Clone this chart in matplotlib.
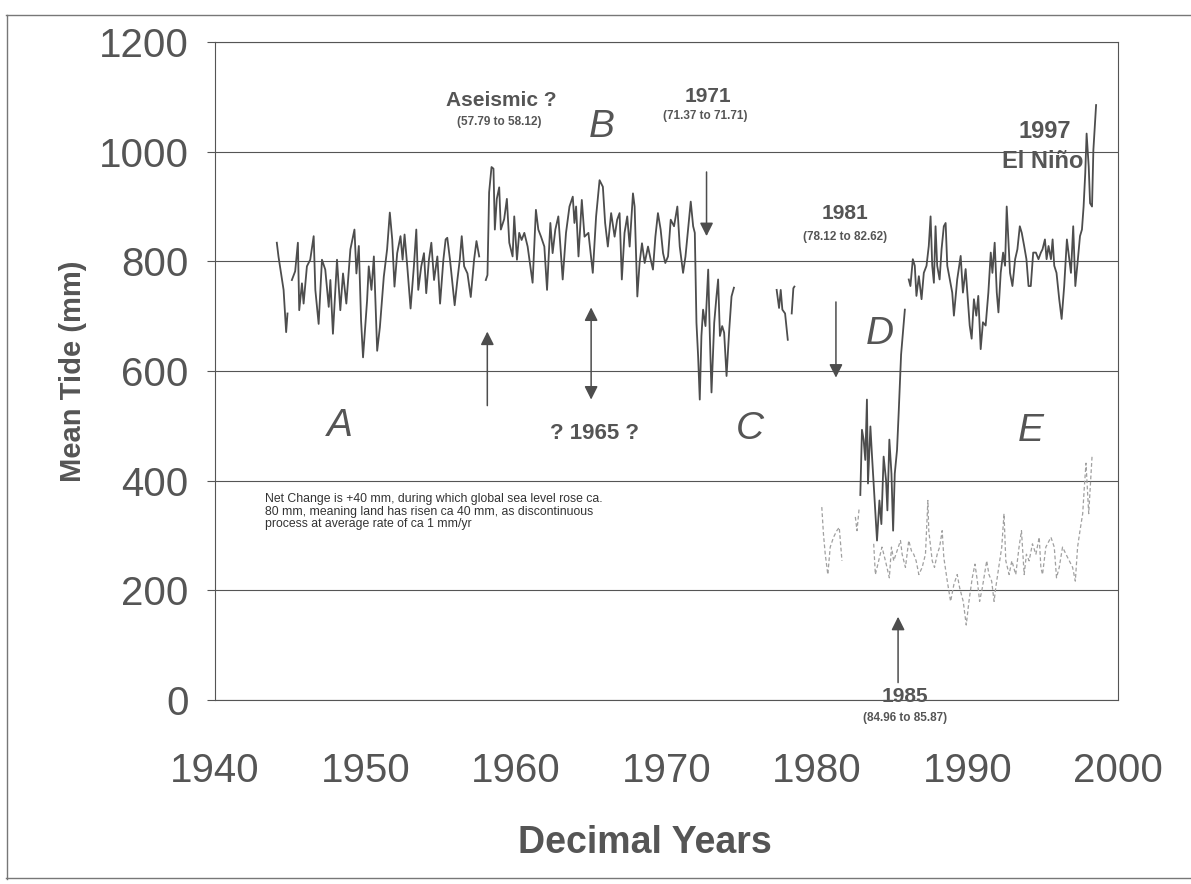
import numpy as np
import matplotlib
matplotlib.use("Agg")
import matplotlib.pyplot as plt
from matplotlib.lines import Line2D

plt.rcParams['font.family'] = ['Liberation Sans', 'DejaVu Sans']

nan = np.nan

# main (dark) tide record, decimal years / mm; nan breaks the line at data gaps
main_years = [
    1944.11, 1944.22, 1944.56, 1944.73, 1944.82, nan,
    1945.11, 1945.33, 1945.51, 1945.60, 1945.78, 1945.89, 1946.11, 1946.33, 1946.56, 1946.67,
    1946.89, 1947.11, 1947.33, 1947.56, 1947.67, 1947.84, 1948.11, 1948.33, 1948.51, 1948.73,
    1949.00, 1949.27, 1949.40, 1949.56, 1949.71, 1949.84, 1950.11, 1950.22, 1950.40, 1950.56,
    1950.78, 1950.96, 1951.22, 1951.44, 1951.62, 1951.78, 1951.93, 1952.11, 1952.33, 1952.47,
    1952.60, 1952.78, 1953.00, 1953.22, 1953.38, 1953.51, 1953.71, 1953.89, 1954.04, 1954.22,
    1954.38, 1954.56, 1954.78, 1954.96, 1955.18, 1955.33, 1955.44, 1955.62, 1955.78, 1955.93,
    1956.11, 1956.27, 1956.40, 1956.56, 1956.78, 1957.00, 1957.22, 1957.38, 1957.56, nan,
    1958.00, 1958.11, 1958.22, 1958.38, 1958.51, 1958.60, 1958.73, 1958.89, 1959.00, 1959.22,
    1959.40, 1959.56, 1959.78, 1959.89, 1960.07, 1960.22, 1960.38, 1960.56, 1960.78, 1961.11,
    1961.33, 1961.49, 1961.67, 1961.89, 1962.07, 1962.29, 1962.44, 1962.62, 1962.82, 1962.96,
    1963.11, 1963.33, 1963.56, 1963.78, 1963.89, 1964.00, 1964.16, 1964.38, 1964.56, 1964.82,
    1965.11, 1965.33, 1965.56, 1965.78, 1965.93, 1966.11, 1966.33, 1966.56, 1966.73, 1966.89,
    1967.04, 1967.22, 1967.40, 1967.56, 1967.78, 1967.89, 1968.07, 1968.22, 1968.38, 1968.56,
    1968.78, 1968.96, 1969.11, 1969.27, 1969.44, 1969.62, 1969.78, 1969.93, 1970.11, 1970.29,
    1970.51, 1970.73, 1970.89, 1971.11, 1971.27, 1971.44, 1971.62, 1971.78, 1971.89, 1972.00,
    1972.11, 1972.22, 1972.33, 1972.44, 1972.60, 1972.78, 1972.89, 1973.00, 1973.18, 1973.33,
    1973.44, 1973.56, 1973.71, 1973.84, 1974.00, 1974.18, 1974.33, 1974.49, nan,
    1977.33, 1977.49, 1977.60, 1977.71, 1977.89, 1978.07, nan, 1978.33, 1978.44, 1978.51, nan,
    1982.89, 1983.00, 1983.11, 1983.22, 1983.33, 1983.40, 1983.56, 1983.67, 1983.84, 1984.00,
    1984.16, 1984.29, 1984.44, 1984.60, 1984.69, 1984.82, 1984.96, 1985.07, 1985.18, 1985.33,
    1985.44, 1985.60, 1985.85, nan,
    1986.11, 1986.22, 1986.38, 1986.51, 1986.62, 1986.78, 1986.96, 1987.11, 1987.29, 1987.44,
    1987.56, 1987.67, 1987.78, 1987.89, 1988.00, 1988.16, 1988.29, 1988.44, 1988.56, 1988.67,
    1988.84, 1989.00, 1989.11, 1989.33, 1989.56, 1989.71, 1989.89, 1990.00, 1990.16, 1990.29,
    1990.44, 1990.60, 1990.73, 1990.89, 1991.04, 1991.22, 1991.40, 1991.56, 1991.67, 1991.82,
    1991.96, 1992.07, 1992.22, 1992.38, 1992.51, 1992.62, 1992.71, 1992.84, 1993.00, 1993.18,
    1993.33, 1993.49, 1993.62, 1993.78, 1993.93, 1994.07, 1994.22, 1994.38, 1994.56, 1994.73,
    1994.89, 1995.00, 1995.16, 1995.27, 1995.40, 1995.56, 1995.67, 1995.78, 1995.93, 1996.11,
    1996.27, 1996.44, 1996.62, 1996.78, 1996.89, 1997.04, 1997.18, 1997.33, 1997.49, 1997.62,
    1997.73, 1997.84, 1997.93, 1998.07, 1998.16, 1998.29, 1998.38, 1998.56,
]
main_tide = [
    834, 809, 748, 671, 705, nan,
    766, 782, 834, 711, 760, 723, 791, 803, 846, 748,
    686, 803, 785, 717, 766, 668, 803, 711, 778, 723,
    822, 858, 778, 828, 692, 625, 729, 791, 748, 809,
    637, 680, 772, 822, 889, 840, 754, 815, 846, 803,
    849, 791, 714, 791, 858, 748, 791, 815, 742, 803,
    834, 766, 809, 723, 803, 840, 843, 803, 760, 720,
    766, 803, 846, 791, 778, 735, 803, 837, 809, nan,
    766, 775, 926, 972, 969, 858, 914, 935, 858, 877,
    914, 834, 809, 882, 803, 852, 839, 852, 827, 761,
    894, 858, 845, 827, 748, 870, 815, 858, 882, 827,
    767, 852, 900, 918, 870, 900, 809, 912, 845, 852,
    779, 882, 948, 936, 870, 827, 888, 845, 876, 888,
    767, 852, 882, 827, 924, 900, 736, 797, 833, 797,
    827, 803, 785, 845, 888, 858, 815, 797, 809, 876,
    864, 900, 827, 779, 809, 858, 909, 864, 852, 688,
    627, 548, 664, 712, 682, 785, 664, 561, 688, 736,
    767, 664, 682, 670, 591, 676, 736, 752, nan,
    748, 715, 748, 712, 705, 657, nan, 705, 751, 754, nan,
    374, 493, 475, 438, 548, 395, 499, 444, 364, 291,
    364, 321, 444, 401, 346, 475, 413, 309, 413, 456,
    524, 630, 712, nan,
    767, 755, 804, 792, 737, 773, 731, 779, 792, 828,
    882, 792, 761, 864, 792, 767, 822, 864, 870, 792,
    767, 743, 701, 767, 810, 743, 786, 743, 683, 659,
    731, 701, 737, 640, 689, 683, 743, 816, 779, 834,
    743, 707, 779, 816, 792, 900, 852, 779, 755, 804,
    822, 864, 852, 828, 804, 755, 755, 816, 816, 804,
    816, 822, 840, 804, 828, 804, 840, 792, 779, 731,
    695, 755, 840, 804, 779, 864, 755, 798, 846, 858,
    900, 961, 1033, 973, 906, 900, 1003, 1085,
]

# faint lower record (old datum), decimal years / mm
faint_years = [
    1980.33, 1980.44, 1980.56, 1980.73, 1980.89, 1981.11, 1981.33, 1981.49, 1981.67, nan,
    1982.56, 1982.67, 1982.82, nan,
    1983.78, 1983.89, 1984.33, 1984.56, 1984.82, 1984.96, 1985.11, 1985.33, 1985.56, 1985.67,
    1985.89, 1986.11, 1986.29, 1986.44, 1986.60, 1986.78, 1987.00, 1987.22, 1987.38, 1987.44,
    1987.67, 1987.82, 1988.00, 1988.16, 1988.33, 1988.44, 1988.67, 1988.89, 1989.11, 1989.33,
    1989.49, 1989.73, 1989.93, 1990.11, 1990.33, 1990.51, 1990.67, 1990.82, 1991.00, 1991.29,
    1991.44, 1991.62, 1991.78, 1991.89, 1992.29, 1992.44, 1992.56, 1992.78, 1992.96, 1993.22,
    1993.44, 1993.60, 1993.78, 1993.93, 1994.11, 1994.33, 1994.56, 1994.78, 1994.89, 1995.00,
    1995.22, 1995.56, 1995.78, 1995.93, 1996.11, 1996.33, 1996.56, 1996.78, 1997.00, 1997.18,
    1997.33, 1997.49, 1997.67, 1997.78, 1997.89, 1998.07, 1998.29,
]
faint_tide = [
    352, 303, 266, 229, 279, 297, 309, 315, 254, nan,
    334, 309, 352, nan,
    285, 229, 279, 254, 223, 279, 254, 272, 291, 266,
    242, 291, 272, 266, 254, 229, 242, 266, 364, 309,
    254, 242, 266, 279, 309, 260, 217, 180, 211, 229,
    205, 180, 137, 180, 223, 248, 217, 180, 205, 254,
    229, 217, 180, 205, 279, 340, 254, 229, 254, 229,
    279, 309, 229, 266, 254, 285, 266, 297, 242, 229,
    279, 297, 279, 223, 242, 279, 266, 254, 242, 217,
    279, 309, 340, 389, 432, 340, 444,
]

x_ticks = [1940, 1950, 1960, 1970, 1980, 1990, 2000]
y_ticks = [0, 200, 400, 600, 800, 1000, 1200]

ink = '#4d4d4d'
txt = '#555555'

fig = plt.figure(figsize=(11.91, 8.84), dpi=100)
ax = fig.add_axes([0.1805, 0.208, 0.758, 0.7445])

ax.plot(faint_years, faint_tide, color='#a0a0a0', lw=0.9, ls=(0, (3, 2)))
ax.plot(main_years, main_tide, color=ink, lw=1.3)

ax.set_xlim(1940, 2000)
ax.set_ylim(0, 1200)
ax.set_xticks(x_ticks)
ax.set_yticks(y_ticks)
ax.yaxis.grid(True, color='#555555', lw=0.8)
ax.set_axisbelow(True)
for s in ax.spines.values():
    s.set_color('#555555')
    s.set_linewidth(0.8)
ax.tick_params(axis='y', direction='out', length=6, width=0.8, color='#555555',
               labelsize=29, labelcolor=txt, pad=13)
ax.tick_params(axis='x', direction='out', length=0, labelsize=29,
               labelcolor=txt, pad=37)

ax.set_ylabel('Mean Tide (mm)', fontsize=21, fontweight='bold', color=txt)
ax.yaxis.set_label_coords(-0.142, 0.5)
ax.set_xlabel('Decimal Years', fontsize=27, fontweight='bold', color=txt)
ax.xaxis.set_label_coords(0.476, -0.19)

# event labels
bold = dict(fontweight='bold', color=txt, ha='center', va='center')
ax.text(1959.0, 1094, 'Aseismic ?', fontsize=15, **bold)
ax.text(1958.87, 1054, '(57.79 to 58.12)', fontsize=8.5, **bold)
ax.text(1972.73, 1101, '1971', fontsize=15, **bold)
ax.text(1972.6, 1065, '(71.37 to 71.71)', fontsize=8.5, **bold)
ax.text(1981.87, 888, '1981', fontsize=15, **bold)
ax.text(1981.87, 845, '(78.12 to 82.62)', fontsize=8.5, **bold)
ax.text(1995.15, 1036, '1997', fontsize=17, **bold)
ax.text(1995.0, 982, 'El Niño', fontsize=17, **bold)
ax.text(1965.2, 487, '? 1965 ?', fontsize=16, **bold)
ax.text(1985.87, 6, '1985', fontsize=15, **bold)
ax.text(1985.87, -33, '(84.96 to 85.87)', fontsize=8.5, **bold)

seg = dict(fontsize=28, fontstyle='italic', color=txt, ha='center', va='center')
ax.text(1948.33, 500, 'A', **seg)
ax.text(1965.73, 1045, 'B', **seg)
ax.text(1975.53, 495, 'C', **seg)
ax.text(1984.2, 668, 'D', **seg)
ax.text(1994.2, 490, 'E', **seg)

ax.text(1943.35, 377,
        'Net Change is +40 mm, during which global sea level rose ca.\n'
        '80 mm, meaning land has risen ca 40 mm, as discontinuous\n'
        'process at average rate of ca 1 mm/yr',
        fontsize=8.8, color='#333333', ha='left', va='top', linespacing=1.05)

arrow = dict(arrowstyle='-|>', color=ink, lw=1.1, mutation_scale=20, shrinkA=0, shrinkB=0)
ax.annotate('', xy=(1958.1, 672), xytext=(1958.1, 537), arrowprops=arrow)
ax.annotate('', xy=(1965.0, 716), xytext=(1965.0, 548),
            arrowprops=dict(arrow, arrowstyle='<|-|>'))
ax.annotate('', xy=(1972.67, 846), xytext=(1972.67, 963), arrowprops=arrow)
ax.annotate('', xy=(1981.27, 588), xytext=(1981.27, 726), arrowprops=arrow)
ax.annotate('', xy=(1985.4, 152), xytext=(1985.4, 32), arrowprops=arrow, annotation_clip=False)

# scanned page border
fig.add_artist(Line2D([0.005, 1.0], [0.983, 0.983], color='#777777', lw=1))
fig.add_artist(Line2D([0.006, 0.006], [0.006, 0.983], color='#777777', lw=1))
fig.add_artist(Line2D([0.005, 1.0], [0.007, 0.007], color='#777777', lw=1))

fig.savefig('out.png', dpi=100, facecolor='white')
